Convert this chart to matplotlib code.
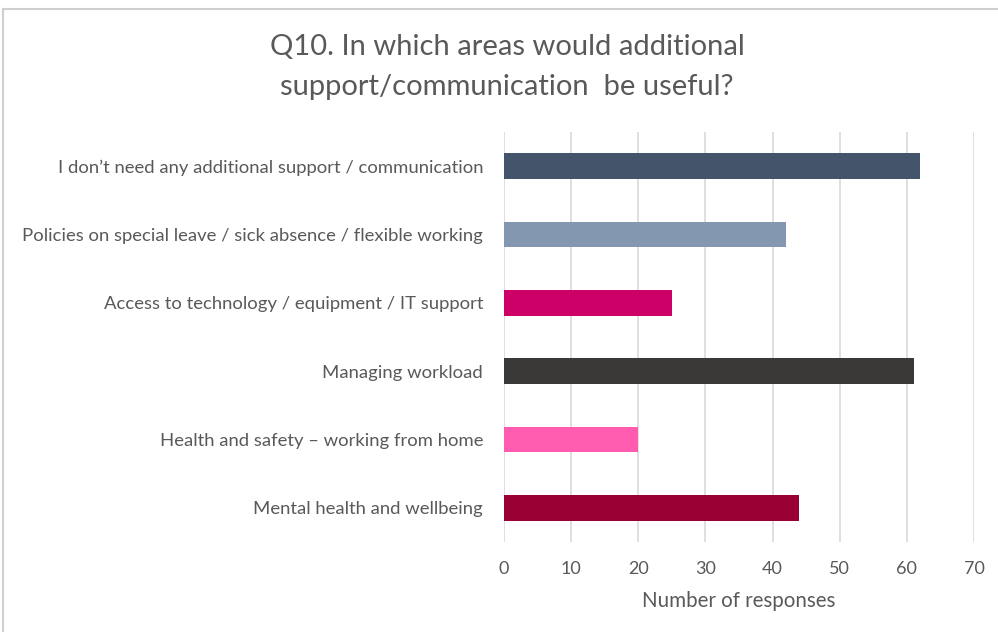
import matplotlib.pyplot as plt
from matplotlib.lines import Line2D

categories = [
    "I don\u2019t need any additional support / communication",
    "Policies on special leave / sick absence / flexible working",
    "Access to technology / equipment / IT support",
    "Managing workload",
    "Health and safety \u2013 working from home",
    "Mental health and wellbeing",
]
responses = [62, 42, 25, 61, 20, 44]
colours = ["#44546A", "#8497B0", "#CC0066", "#3B3838", "#FF5BAF", "#990033"]
xticks = [0, 10, 20, 30, 40, 50, 60, 70]

plt.rcParams['font.family'] = ['Lato', 'DejaVu Sans']
txt = "#595959"

fig = plt.figure(figsize=(9.98, 6.32), dpi=100)
ax = fig.add_axes([504 / 998, 1 - 542 / 632, (974 - 504) / 998, (542 - 132) / 632])

pos = list(range(len(categories)))
ax.barh(pos, responses, height=0.38, color=colours, zorder=3)
ax.set_ylim(5.5, -0.5)
ax.set_xlim(0, 70)
ax.set_xticks(xticks)
ax.set_yticks(pos)
ax.set_yticklabels(categories, fontsize=13.3, color=txt)
ax.tick_params(axis='x', labelsize=13, colors=txt, length=0, pad=14)
ax.tick_params(axis='y', length=0, pad=15)
ax.grid(axis='x', color="#D9D9D9", linewidth=1.2, zorder=0)
for s in ax.spines.values():
    s.set_visible(False)
ax.set_xlabel("Number of responses", fontsize=14.8, color=txt, labelpad=10)

fig.text(507 / 998, 1 - 67 / 632,
         "Q10. In which areas would additional\nsupport/communication  be useful?",
         ha='center', va='center', fontsize=21, color=txt, linespacing=1.68)

# chart frame
fig.add_artist(Line2D([3 / 998, 3 / 998], [0, 1 - 9 / 632], color="#D0D0D0", lw=1.5))
fig.add_artist(Line2D([3 / 998, 1], [1 - 9 / 632, 1 - 9 / 632], color="#D0D0D0", lw=1.5))

fig.savefig("out.png", dpi=100)
